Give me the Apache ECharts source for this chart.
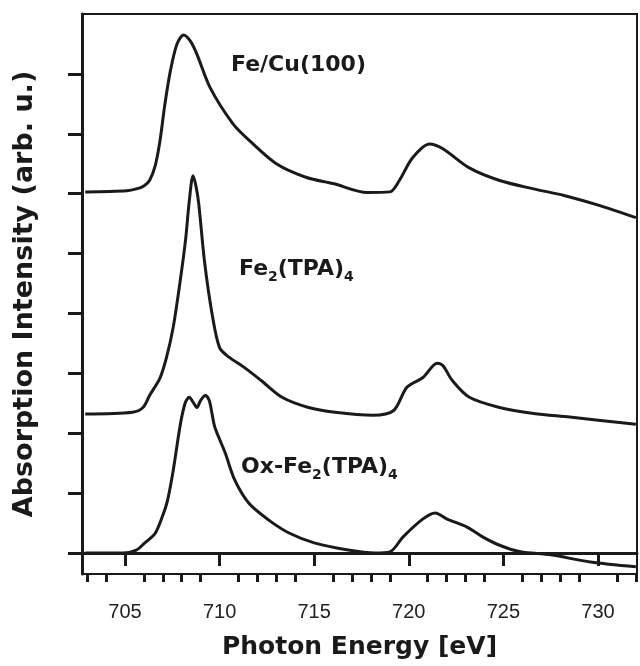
<!DOCTYPE html>
<html>
<head>
<meta charset="utf-8">
<script src="https://cdn.jsdelivr.net/npm/echarts@6/dist/echarts.min.js"></script>
<style>
  html, body { margin: 0; padding: 0; background: #fff; }
  #xasChart { width: 640px; height: 666px; }
</style>
</head>
<body>
<div id="xasChart"></div>
<script>
// values: photon energy (eV) and offset intensity
var feCuX = [702.9, 705.1, 705.6, 706.0, 706.3, 706.6, 706.85, 707.1, 707.4, 707.75, 708.1, 708.45, 708.8, 709.5, 710.7, 711.6, 713.0, 714.6, 716.0, 717.8, 719.0, 719.5, 720.2, 721.1, 721.8, 723.2, 724.8, 726.6, 728.2, 730.1, 732.0];
var feCuY = [6.03, 6.05, 6.08, 6.13, 6.22, 6.47, 6.88, 7.47, 8.05, 8.5, 8.65, 8.55, 8.33, 7.77, 7.17, 6.88, 6.5, 6.27, 6.17, 6.02, 6.03, 6.22, 6.6, 6.83, 6.75, 6.43, 6.22, 6.08, 5.97, 5.8, 5.6];

var feTpaX = [702.9, 705.4, 705.95, 706.3, 706.85, 707.2, 707.55, 707.9, 708.2, 708.4, 708.6, 708.75, 708.9, 709.2, 709.6, 710.0, 710.5, 711.3, 712.2, 713.3, 714.7, 716.1, 718.1, 719.2, 719.9, 720.75, 721.5, 721.8, 722.3, 723.2, 724.8, 726.6, 728.5, 732.0];
var feTpaY = [2.32, 2.35, 2.43, 2.63, 2.92, 3.27, 3.77, 4.5, 5.22, 5.88, 6.3, 6.13, 5.83, 4.88, 4.0, 3.43, 3.27, 3.1, 2.88, 2.6, 2.43, 2.35, 2.3, 2.38, 2.77, 2.93, 3.17, 3.13, 2.88, 2.6, 2.43, 2.33, 2.27, 2.15];

var oxTpaX = [702.9, 704.9, 705.6, 706.05, 706.6, 707.0, 707.25, 707.55, 707.85, 708.0, 708.2, 708.4, 708.6, 708.8, 709.0, 709.25, 709.45, 709.6, 709.75, 710.3, 710.8, 711.55, 712.6, 713.7, 715.0, 716.8, 718.2, 719.0, 719.7, 720.75, 721.4, 722.0, 723.1, 723.9, 724.8, 725.9, 727.5, 729.6, 732.0];
var oxTpaY = [0, 0, 0.05, 0.17, 0.33, 0.63, 0.88, 1.38, 2.0, 2.27, 2.52, 2.6, 2.52, 2.43, 2.55, 2.63, 2.55, 2.33, 2.1, 1.67, 1.22, 0.83, 0.55, 0.33, 0.17, 0.05, 0, 0.02, 0.27, 0.57, 0.67, 0.57, 0.43, 0.27, 0.13, 0.02, -0.03, -0.15, -0.23];

var majorTicks = [705, 710, 715, 720, 725, 730];
var minorTicks = [703, 704, 706, 707, 708, 709, 711, 712, 713, 714, 716, 717, 718, 719, 721, 722, 723, 724, 726, 727, 728, 729, 731, 732];
var yTicks = [0, 1, 2, 3, 4, 5, 6, 7, 8];

function zip(xs, ys) {
  return xs.map(function (x, i) { return [x, ys[i]]; });
}

var ink = '#1a1a1a';
var xMin = 702.73, xMax = 732.06;

var chart = echarts.init(document.getElementById('xasChart'));

function curve(name, xs, ys) {
  return {
    name: name,
    type: 'line',
    smooth: 0.3,
    showSymbol: false,
    silent: true,
    lineStyle: { color: ink, width: 3 },
    data: zip(xs, ys)
  };
}

var titleFont = 'bold 22px "DejaVu Sans"';
var richLabel = {
  a: { font: titleFont, fill: ink, lineHeight: 30, verticalAlign: 'middle' },
  s: { font: 'bold 14px "DejaVu Sans"', fill: ink, lineHeight: 14, verticalAlign: 'bottom' }
};

var option = {
  backgroundColor: '#fff',
  animation: false,
  grid: {
    left: 82, right: 3, top: 14, bottom: 92,
    show: true, borderColor: ink, borderWidth: 2
  },
  xAxis: [
    {
      type: 'value',
      min: xMin, max: xMax,
      name: 'Photon Energy [eV]',
      nameLocation: 'middle',
      nameGap: 61,
      nameTextStyle: { fontFamily: 'DejaVu Sans', fontWeight: 'bold', fontSize: 25, color: ink },
      axisLine: { lineStyle: { color: ink, width: 3 } },
      axisTick: { customValues: majorTicks, length: 13, lineStyle: { color: ink, width: 3 } },
      axisLabel: { customValues: majorTicks, margin: 28, fontFamily: 'Liberation Sans', fontSize: 20, color: '#222' },
      splitLine: { show: false }
    },
    {
      type: 'value',
      min: xMin, max: xMax,
      position: 'bottom',
      axisLine: { show: false },
      axisTick: { customValues: minorTicks, length: 8, lineStyle: { color: ink, width: 3 } },
      axisLabel: { show: false },
      splitLine: { show: false }
    }
  ],
  yAxis: {
    type: 'value',
    min: -0.35, max: 9,
    name: 'Absorption Intensity (arb. u.)',
    nameLocation: 'middle',
    nameGap: 44,
    nameTextStyle: { fontFamily: 'DejaVu Sans', fontWeight: 'bold', fontSize: 27, color: ink },
    axisLine: { show: true, lineStyle: { color: ink, width: 3 } },
    axisTick: { show: true, customValues: yTicks, length: 14, lineStyle: { color: ink, width: 3 } },
    axisLabel: { show: false },
    splitLine: { show: false }
  },
  graphic: [
    { type: 'text', left: 231, top: 54, style: { text: '{a|Fe/Cu(100)}', rich: richLabel } },
    { type: 'text', left: 239, top: 258, style: { text: '{a|Fe}{s|2}{a|(TPA)}{s|4}', rich: richLabel } },
    { type: 'text', left: 241, top: 456, style: { text: '{a|Ox-Fe}{s|2}{a|(TPA)}{s|4}', rich: richLabel } }
  ],
  series: [
    curve('Fe/Cu(100)', feCuX, feCuY),
    curve('Fe2(TPA)4', feTpaX, feTpaY),
    curve('Ox-Fe2(TPA)4', oxTpaX, oxTpaY)
  ]
};

chart.setOption(option);
</script>
</body>
</html>
